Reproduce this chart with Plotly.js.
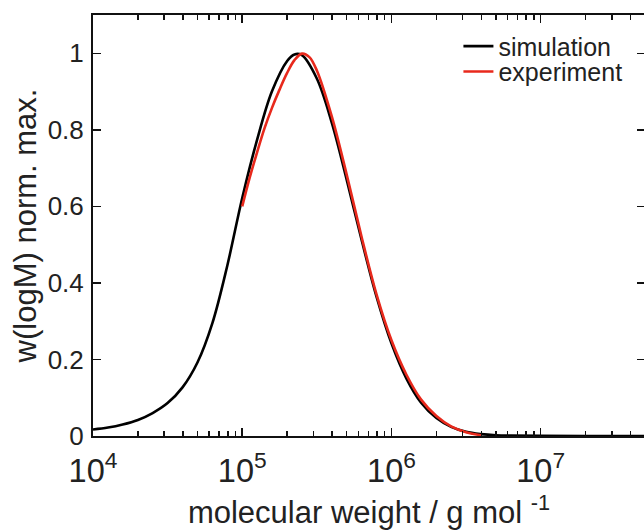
<!DOCTYPE html>
<html>
<head>
<meta charset="utf-8">
<script src="https://cdn.plot.ly/plotly-3.0.1.min.js"></script>
<style>
html, body { margin: 0; padding: 0; overflow: hidden; background: #fff; width: 644px; height: 532px; }
#chart { width: 660px; height: 532px; }
</style>
</head>
<body>
<div id="chart"></div>
<script>
// molecular weight (g/mol) and normalized w(logM)
const simM = [1.0e4, 1.26e4, 1.58e4, 2.0e4, 2.51e4, 3.16e4, 3.98e4, 5.01e4, 6.31e4, 7.94e4,
  1.0e5, 1.26e5, 1.58e5, 2.0e5, 2.24e5, 2.51e5, 3.16e5, 3.98e5, 5.01e5, 6.31e5, 7.94e5,
  1.0e6, 1.26e6, 1.58e6, 2.0e6, 2.51e6, 3.16e6, 3.98e6, 5.01e6, 6.31e6, 1.0e7, 2.0e7, 5.0e7];
const simW = [0.017, 0.022, 0.030, 0.042, 0.060, 0.086, 0.127, 0.192, 0.295, 0.445,
  0.622, 0.775, 0.900, 0.980, 0.997, 0.995, 0.934, 0.819, 0.670, 0.512, 0.364,
  0.242, 0.150, 0.087, 0.047, 0.024, 0.011, 0.005, 0.002, 0.001, 0.0003, 0.0, 0.0];

const expM = [1.0e5, 1.122e5, 1.259e5, 1.413e5, 1.585e5, 1.778e5, 1.995e5, 2.239e5, 2.512e5, 2.818e5,
  3.162e5, 3.981e5, 5.012e5, 6.31e5, 7.94e5, 1.0e6, 1.26e6, 1.58e6, 2.0e6, 2.51e6, 3.16e6, 3.98e6];
const expW = [0.600, 0.675, 0.742, 0.805, 0.858, 0.905, 0.948, 0.982, 0.999, 0.990,
  0.955, 0.835, 0.683, 0.520, 0.370, 0.250, 0.160, 0.095, 0.052, 0.025, 0.010, 0.002];

const seriesNames = ['simulation', 'experiment'];
const seriesColors = ['#000000', '#e8291c'];
const yTicks = [0, 0.2, 0.4, 0.6, 0.8, 1];
const yTickText = ['0', '0.2', '0.4', '0.6', '0.8', '1'];

const font = 'Liberation Sans, Arial, Helvetica, sans-serif';
const txt = '#222';

const traces = [
  { x: simM, y: simW, type: 'scatter', mode: 'lines', name: seriesNames[0], legend: 'legend',
    line: { color: seriesColors[0], width: 2.6, shape: 'spline', smoothing: 1 } },
  { x: expM, y: expW, type: 'scatter', mode: 'lines', name: seriesNames[1], legend: 'legend2',
    line: { color: seriesColors[1], width: 2.6, shape: 'spline', smoothing: 1 } }
];

const legendBase = { xanchor: 'left', yanchor: 'top', bgcolor: 'rgba(0,0,0,0)',
  font: { family: font, size: 25, color: txt } };

const layout = {
  width: 660, height: 532,
  margin: { l: 93, r: 15, t: 15, b: 96 },
  paper_bgcolor: '#fff', plot_bgcolor: '#fff',
  font: { family: font, size: 25, color: txt },
  showlegend: true,
  legend: Object.assign({}, legendBase, { x: 0.662, y: 0.980 }),
  legend2: Object.assign({}, legendBase, { x: 0.662, y: 0.920 }),
  xaxis: {
    type: 'log', range: [4, 7.699], dtick: 1, exponentformat: 'power',
    showline: true, linecolor: '#111', linewidth: 2, mirror: 'ticks',
    ticks: 'inside', ticklen: 8, tickwidth: 1.5, tickcolor: '#111',
    minor: { ticks: 'inside', ticklen: 5, tickwidth: 1.5, tickcolor: '#111', dtick: 'D1', showgrid: false },
    showgrid: false, zeroline: false,
    tickfont: { family: font, size: 26, color: txt },
    ticklabelstandoff: 6,
    title: { text: 'molecular weight / g mol <sup>-1</sup>', font: { family: font, size: 31, color: txt }, standoff: 14 }
  },
  yaxis: {
    range: [0, 1.1], tickvals: yTicks, ticktext: yTickText,
    showline: true, linecolor: '#111', linewidth: 2, mirror: 'ticks',
    ticks: 'inside', ticklen: 8, tickwidth: 1.5, tickcolor: '#111',
    showgrid: false, zeroline: false,
    tickfont: { family: font, size: 26, color: txt },
    ticklabelstandoff: 2,
    title: { text: 'w(logM) norm. max.', font: { family: font, size: 31, color: txt }, standoff: 2 }
  }
};

Plotly.newPlot('chart', traces, layout, { displayModeBar: false, responsive: false, staticPlot: true });
</script>
</body>
</html>
